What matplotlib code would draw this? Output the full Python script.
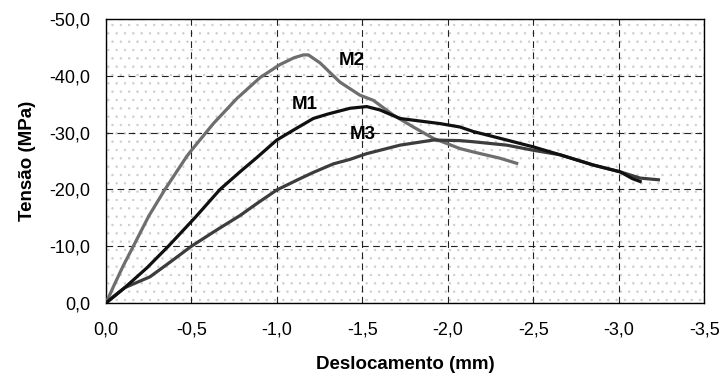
import matplotlib.pyplot as plt
from matplotlib.patches import Rectangle
from matplotlib.ticker import FuncFormatter, MultipleLocator

plt.rcParams['font.family'] = ['Liberation Sans', 'DejaVu Sans']
plt.rcParams['hatch.linewidth'] = 0.5

# deslocamento (mm) e tensao (MPa) de cada modelo
m1_desl = [0, -0.05, -0.11, -0.24, -0.365, -0.52, -0.667, -0.784, -0.882, -0.999,
           -1.116, -1.213, -1.30, -1.428, -1.525, -1.603, -1.72, -1.876, -1.954,
           -2.071, -2.149, -2.345, -2.50, -2.657, -2.851, -3.008, -3.08, -3.125]
m1_tens = [0, -1.2, -2.7, -6.2, -10.0, -15.0, -20.0, -23.1, -25.6, -28.7,
           -30.8, -32.5, -33.3, -34.3, -34.6, -34.0, -32.5, -31.9, -31.6,
           -31.0, -30.2, -28.7, -27.5, -26.1, -24.3, -23.1, -21.9, -21.4]

m2_desl = [0, -0.05, -0.10, -0.16, -0.25, -0.345, -0.472, -0.50, -0.628, -0.765,
           -0.901, -1.018, -1.10, -1.155, -1.184, -1.252, -1.369, -1.486, -1.564,
           -1.681, -1.798, -1.915, -2.071, -2.149, -2.305, -2.403]
m2_tens = [0, -3.3, -6.5, -10.0, -15.3, -20.0, -25.8, -26.9, -31.6, -36.0,
           -39.7, -42.0, -43.2, -43.7, -43.7, -42.3, -38.9, -36.6, -35.7,
           -33.1, -31.0, -29.0, -27.2, -26.6, -25.5, -24.6]

m3_desl = [0, -0.05, -0.11, -0.257, -0.38, -0.50, -0.65, -0.784, -0.882, -0.999,
           -1.135, -1.213, -1.33, -1.428, -1.525, -1.72, -1.915, -2.071, -2.149,
           -2.345, -2.50, -2.657, -2.851, -3.008, -3.125, -3.232]
m3_tens = [0, -1.3, -2.7, -4.6, -7.3, -10.0, -12.9, -15.4, -17.5, -19.9,
           -21.9, -23.0, -24.5, -25.3, -26.3, -27.8, -28.7, -28.6, -28.4,
           -27.8, -26.9, -26.1, -24.3, -23.1, -22.0, -21.7]

fig = plt.figure(figsize=(7.26, 3.83), dpi=100)
ax = fig.add_axes([0.146, 0.209, 0.824, 0.741])

# fundo pontilhado
ax.add_patch(Rectangle((0, 0), 1, 1, transform=ax.transAxes, facecolor='white',
                       edgecolor='#cdcdcd', hatch='..', linewidth=0, zorder=0))

ax.plot(m2_desl, m2_tens, color='#6e6e6e', lw=2.3, zorder=3)
ax.plot(m3_desl, m3_tens, color='#3c3c3c', lw=2.3, zorder=3)
ax.plot(m1_desl, m1_tens, color='#101010', lw=2.3, zorder=4)

lbl = dict(fontsize=13.5, fontweight='bold', ha='center', va='center')
ax.text(-1.44, -42.8, 'M2', **lbl)
ax.text(-1.164, -35.0, 'M1', **lbl)
ax.text(-1.504, -29.6, 'M3', **lbl)

ax.set_xlim(0, -3.5)
ax.set_ylim(0, -50)
ax.xaxis.set_major_locator(MultipleLocator(0.5))
ax.yaxis.set_major_locator(MultipleLocator(10))
fmt = FuncFormatter(lambda v, p: f'{v:.1f}'.replace('.', ',').replace('-0,0', '0,0'))
ax.xaxis.set_major_formatter(fmt)
ax.yaxis.set_major_formatter(fmt)

ax.grid(True, color='#222222', linestyle=(0, (6, 4)), linewidth=0.8, zorder=1)
ax.set_axisbelow(True)
ax.tick_params(length=0, labelsize=13)
ax.tick_params(axis='x', pad=13)
ax.tick_params(axis='y', pad=11)
for s in ax.spines.values():
    s.set_linewidth(1.0)
    s.set_color('black')

ax.set_xlabel('Deslocamento (mm)', fontsize=13.5, fontweight='bold', labelpad=13)
ax.set_ylabel('Tensão (MPa)', fontsize=13.5, fontweight='bold', labelpad=10)

fig.savefig('out.png', dpi=100)
